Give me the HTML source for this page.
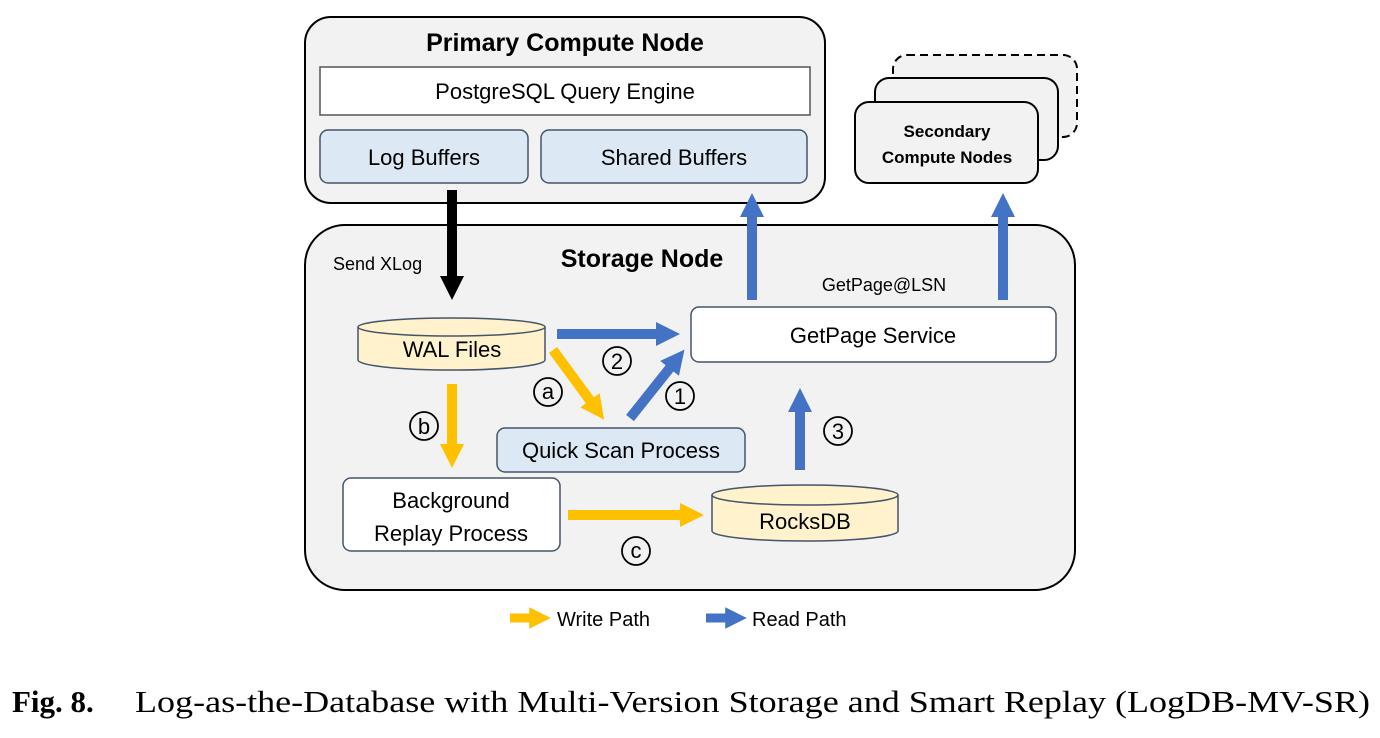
<!DOCTYPE html>
<html><head><meta charset="utf-8"><style>html,body{margin:0;padding:0;background:#fff}svg{display:block}</style></head>
<body>
<svg width="1380" height="738" viewBox="0 0 1380 738" xmlns="http://www.w3.org/2000/svg" font-family="Liberation Sans, DejaVu Sans, sans-serif">
<defs>
<marker id="hb" viewBox="0 0 10 10" refX="5" refY="5" markerWidth="2.4" markerHeight="2.4" orient="auto"><path d="M0,0 L10,5 L0,10 z" fill="#4472c4"/></marker>
<marker id="ho" viewBox="0 0 10 10" refX="5" refY="5" markerWidth="2.4" markerHeight="2.4" orient="auto"><path d="M0,0 L10,5 L0,10 z" fill="#ffc000"/></marker>
<marker id="hk" viewBox="0 0 10 10" refX="5" refY="5" markerWidth="2.4" markerHeight="2.4" orient="auto"><path d="M0,0 L10,5 L0,10 z" fill="#000"/></marker>
</defs>
<rect x="305" y="17" width="520" height="186" rx="26" fill="#f2f2f2" stroke="#000" stroke-width="2"/>
<text x="565" y="51" font-size="25" font-weight="bold" text-anchor="middle">Primary Compute Node</text>
<rect x="320" y="67" width="490" height="48" fill="#fff" stroke="#555" stroke-width="1.5"/>
<text x="565" y="99" font-size="22" text-anchor="middle">PostgreSQL Query Engine</text>
<rect x="320" y="130" width="208" height="53" rx="8" fill="#dce9f5" stroke="#44546a" stroke-width="1.5"/>
<text x="424" y="165" font-size="22" text-anchor="middle">Log Buffers</text>
<rect x="541" y="130" width="266" height="53" rx="8" fill="#dce9f5" stroke="#44546a" stroke-width="1.5"/>
<text x="674" y="165" font-size="22" text-anchor="middle">Shared Buffers</text>
<rect x="893" y="55" width="184" height="82" rx="14" fill="#f2f2f2" stroke="#000" stroke-width="2" stroke-dasharray="8,5"/>
<rect x="875" y="78" width="183" height="82" rx="14" fill="#f2f2f2" stroke="#000" stroke-width="2"/>
<rect x="855" y="102" width="183" height="81" rx="14" fill="#f2f2f2" stroke="#000" stroke-width="2"/>
<text x="947" y="137" font-size="17" font-weight="bold" text-anchor="middle">Secondary</text>
<text x="947" y="163" font-size="17" font-weight="bold" text-anchor="middle">Compute Nodes</text>
<rect x="305" y="225" width="770" height="365" rx="40" fill="#f2f2f2" stroke="#000" stroke-width="2"/>
<text x="642" y="267" font-size="25" font-weight="bold" text-anchor="middle">Storage Node</text>
<text x="333" y="270" font-size="18">Send XLog</text>
<text x="884" y="291" font-size="18" text-anchor="middle">GetPage@LSN</text>
<line x1="452" y1="190" x2="452" y2="288" stroke="#000" stroke-width="10" marker-end="url(#hk)"/>
<line x1="752" y1="300" x2="752" y2="205" stroke="#4472c4" stroke-width="10" marker-end="url(#hb)"/>
<line x1="1003" y1="300" x2="1003" y2="205" stroke="#4472c4" stroke-width="10" marker-end="url(#hb)"/>
<rect x="691" y="307" width="365" height="55" rx="8" fill="#fff" stroke="#44546a" stroke-width="1.5"/>
<text x="873" y="343" font-size="22" text-anchor="middle">GetPage Service</text>
<path d="M358,327 L358,360 A93,10 0 0 0 545,360 L545,327" fill="#fff2cc" stroke="#44546a" stroke-width="1.5"/>
<ellipse cx="451.5" cy="327" rx="93.5" ry="9" fill="#fff2cc" stroke="#44546a" stroke-width="1.5"/>
<text x="452" y="357" font-size="22" text-anchor="middle">WAL Files</text>
<line x1="557" y1="334" x2="668" y2="334" stroke="#4472c4" stroke-width="10" marker-end="url(#hb)"/>
<line x1="553" y1="350" x2="597" y2="410" stroke="#ffc000" stroke-width="10" marker-end="url(#ho)"/>
<line x1="630" y1="418" x2="677" y2="359" stroke="#4472c4" stroke-width="10" marker-end="url(#hb)"/>
<line x1="452" y1="384" x2="452" y2="456" stroke="#ffc000" stroke-width="10" marker-end="url(#ho)"/>
<line x1="800" y1="470" x2="800" y2="400" stroke="#4472c4" stroke-width="10" marker-end="url(#hb)"/>
<line x1="568" y1="515" x2="692" y2="515" stroke="#ffc000" stroke-width="10" marker-end="url(#ho)"/>
<g fill="none" stroke="#000" stroke-width="1.8">
<circle cx="617" cy="361" r="14"/><circle cx="548" cy="392" r="14"/><circle cx="680" cy="396" r="14"/>
<circle cx="424" cy="426" r="14"/><circle cx="838" cy="431" r="14"/><circle cx="636" cy="551" r="14"/>
</g>
<g font-size="22" text-anchor="middle">
<text x="617" y="369">2</text><text x="548" y="399">a</text><text x="680" y="404">1</text>
<text x="424" y="434">b</text><text x="838" y="439">3</text><text x="636" y="558">c</text>
</g>
<rect x="497" y="428" width="248" height="44" rx="8" fill="#dce9f5" stroke="#44546a" stroke-width="1.5"/>
<text x="621" y="458" font-size="22" text-anchor="middle">Quick Scan Process</text>
<rect x="343" y="478" width="217" height="73" rx="8" fill="#fff" stroke="#44546a" stroke-width="1.5"/>
<text x="451" y="508" font-size="22" text-anchor="middle">Background</text>
<text x="451" y="541" font-size="22" text-anchor="middle">Replay Process</text>
<path d="M712,495 L712,531 A93,10 0 0 0 898,531 L898,495" fill="#fff2cc" stroke="#44546a" stroke-width="1.5"/>
<ellipse cx="805" cy="495" rx="93" ry="10" fill="#fff2cc" stroke="#44546a" stroke-width="1.5"/>
<text x="805" y="529" font-size="22" text-anchor="middle">RocksDB</text>
<line x1="510" y1="618" x2="540" y2="618" stroke="#ffc000" stroke-width="9" marker-end="url(#ho)"/>
<text x="557" y="626" font-size="20">Write Path</text>
<line x1="706" y1="618" x2="736" y2="618" stroke="#4472c4" stroke-width="9" marker-end="url(#hb)"/>
<text x="752" y="626" font-size="20">Read Path</text>
<text x="12" y="712" font-size="31" font-family="Liberation Serif, serif" font-weight="bold">Fig. 8.</text>
<text x="135" y="712" font-size="31" font-family="Liberation Serif, serif" textLength="1235" lengthAdjust="spacingAndGlyphs">Log-as-the-Database with Multi-Version Storage and Smart Replay (LogDB-MV-SR)</text>
</svg>
</body></html>
